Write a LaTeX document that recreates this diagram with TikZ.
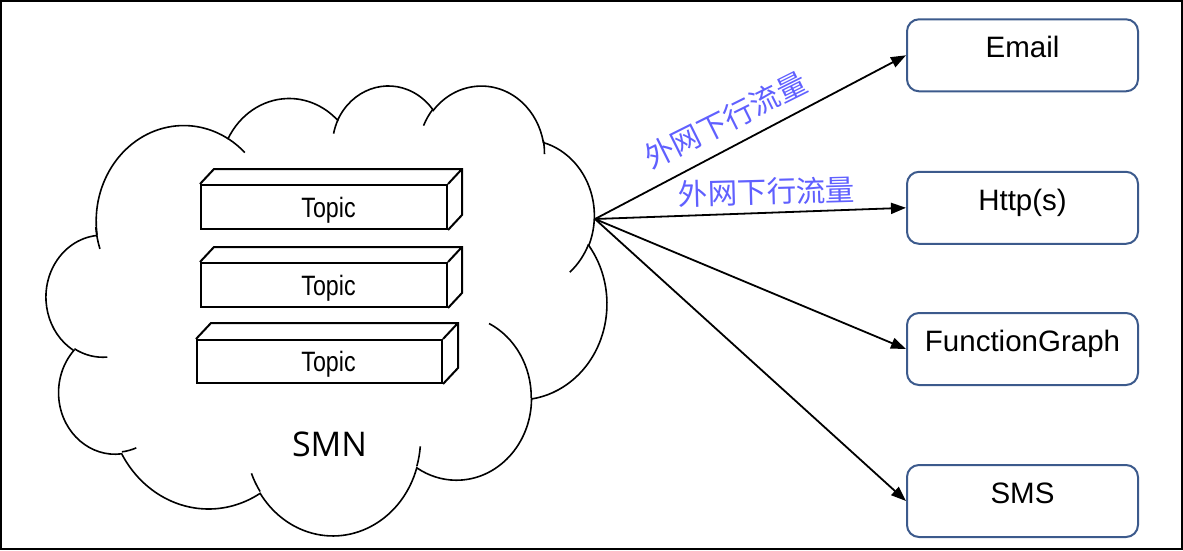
\documentclass[tikz,border=0pt]{standalone}
\usepackage{fontspec}
\setmainfont{Liberation Sans}
\newfontfamily\cjk{Noto Sans CJK SC}
\newfontfamily\topicfont[FakeStretch=0.83]{Liberation Sans}
\newfontfamily\smnfont{Open Sans}
\usepackage{xcolor}
\usetikzlibrary{arrows.meta}
\definecolor{boxblue}{RGB}{60,90,140}
\definecolor{labelblue}{RGB}{96,96,255}

% visual angle -> parametric angle of an ellipse
\pgfmathdeclarefunction{cloudang}{3}{%
  \begingroup
    \pgfmathparse{atan2((#2)*sin(#1),(#3)*cos(#1))}%
    \let\cloudt\pgfmathresult
    \pgfmathparse{\cloudt+360*round(((#1)-\cloudt)/360)}%
    \pgfmathsmuggle\pgfmathresult
  \endgroup}

\begin{document}
\begin{tikzpicture}[x=1pt, y=-1pt,
  every node/.style={inner sep=0pt},
  bump/.style n args={4}{x radius=#1, y radius=#2,
    start angle={cloudang(#3,#1,#2)}, end angle={cloudang(#3+#4,#1,#2)}},
  cloud line/.style={line width=1.6pt},
  topic/.style={draw, line width=2pt, minimum width=246pt, minimum height=44pt},
  topic edge/.style={line width=2pt},
  topic label/.style={text height=20pt, text depth=0pt, font=\topicfont\fontsize{28}{30}\selectfont},
  target/.style={draw=boxblue, line width=2pt, rounded corners=12pt, minimum width=231pt, minimum height=72pt,
    text height=21pt, text depth=15.8pt, font=\fontsize{29.5}{32}\selectfont},
  flow/.style={line width=1.8pt, -{Triangle[length=15pt, width=11pt]}},
  traffic/.style={text=labelblue, font=\cjk\fontsize{29.5}{32}\selectfont}
]
\useasboundingbox (0,0) rectangle (1183,550);
\draw[line width=2.4pt] (1.2,1.2) rectangle (1181.8,548.8);

% cloud
\begin{scope}[shift={(46.4,84.5)}, x=1.297pt, y=-1.0412pt]
\draw[cloud line] (39,143.7)
  arc[bump={67.53}{91.90}{-190.4875}{123.7805}]
  arc[bump={53.33}{72.67}{-144.1024}{89.9452}]
  arc[bump={43.65}{59.45}{-145.8079}{99.7230}]
  arc[bump={48.57}{65.95}{-130.9861}{117.2417}]
  arc[bump={53.33}{72.73}{-78.7089}{109.0269}]
  arc[bump={67.75}{92.20}{-46.2673}{130.2690}]
  arc[bump={57.85}{78.67}{0.6250}{114.0333}]
  arc[bump={67.52}{92.15}{22.4516}{115.1726}]
  arc[bump={77.20}{105.43}{66.2426}{75.7110}]
  arc[bump={43.60}{59.18}{-274.9421}{146.7356}]
  arc[bump={43.45}{59.45}{-246.8285}{152.5189}]
  -- cycle;
\draw[cloud line]
  (46.93,261.77) arc[bump={43.45}{59.45}{86.7420}{26.4295}]
  (69.28,348.99) arc[bump={43.60}{59.18}{73.6105}{11.4475}]
  (164.78,390.90) arc[bump={67.52}{92.15}{137.6242}{14.0811}]
  (288.27,347.51) arc[bump={67.52}{92.15}{6.4533}{15.9984}]
  (341.29,229.54) arc[bump={57.85}{78.67}{-70.2924}{70.9174}]
  (417.98,153.54) arc[bump={53.33}{72.73}{30.3180}{27.7515}]
  (383.24,54.26) arc[bump={48.57}{65.95}{-13.7443}{14.8589}]
  (290.78,39.52) arc[bump={48.57}{65.95}{-149.1815}{18.1954}]
  (221.41,47.20) arc[bump={43.65}{59.45}{-163.4943}{17.6864}]
  (140.00,51.92) arc[bump={67.53}{91.90}{-66.7070}{12.3194}]
  (41.27,157.89) arc[bump={67.53}{91.90}{155.6468}{17.6673}];
\end{scope}

% topics
\node[topic] (t1) at (324,207) {};
\node[topic] (t2) at (324,285) {};
\node[topic, minimum width=245pt, minimum height=43pt] (t3) at (319.5,361.5) {};
\draw[topic edge] (t1.north west) -- ++(14,-15) -| ([shift={(14,-15)}]t1.south east) -- (t1.south east) (t1.north east) -- ++(14,-15);
\draw[topic edge] (t2.north west) -- ++(14,-15) -| ([shift={(14,-15)}]t2.south east) -- (t2.south east) (t2.north east) -- ++(14,-15);
\draw[topic edge] (t3.north west) -- ++(15,-16) -| ([shift={(15,-16)}]t3.south east) -- (t3.south east) (t3.north east) -- ++(15,-16);
\node[topic label] (t1 text) at (328.5,207) {Topic};
\node[topic label] (t2 text) at (328.5,285) {Topic};
\node[topic label] (t3 text) at (328.5,361.5) {Topic};
\node[font=\smnfont\fontsize{34}{36}\selectfont] (smn) at (329.5,444) {SMN};

% targets
\node[target] (email) at (1022.5,55.3) {Email};
\node[target] (http) at (1022.5,207.8) {Http(s)};
\node[target] (fg) at (1022.5,349) {FunctionGraph};
\node[target] (sms) at (1022.5,501) {SMS};

\coordinate (smn out) at (595,219);
\draw[flow] (smn out) -- (email.west);
\draw[flow] (smn out) -- (http.west);
\draw[flow] (smn out) -- (fg.west);
\draw[flow] (smn out) -- (sms.west);

\node[traffic, rotate=26.5] (down1) at (725.5,120) {外网下行流量};
\node[traffic, rotate=1.5] (down2) at (766.7,191.7) {外网下行流量};
\end{tikzpicture}
\end{document}
